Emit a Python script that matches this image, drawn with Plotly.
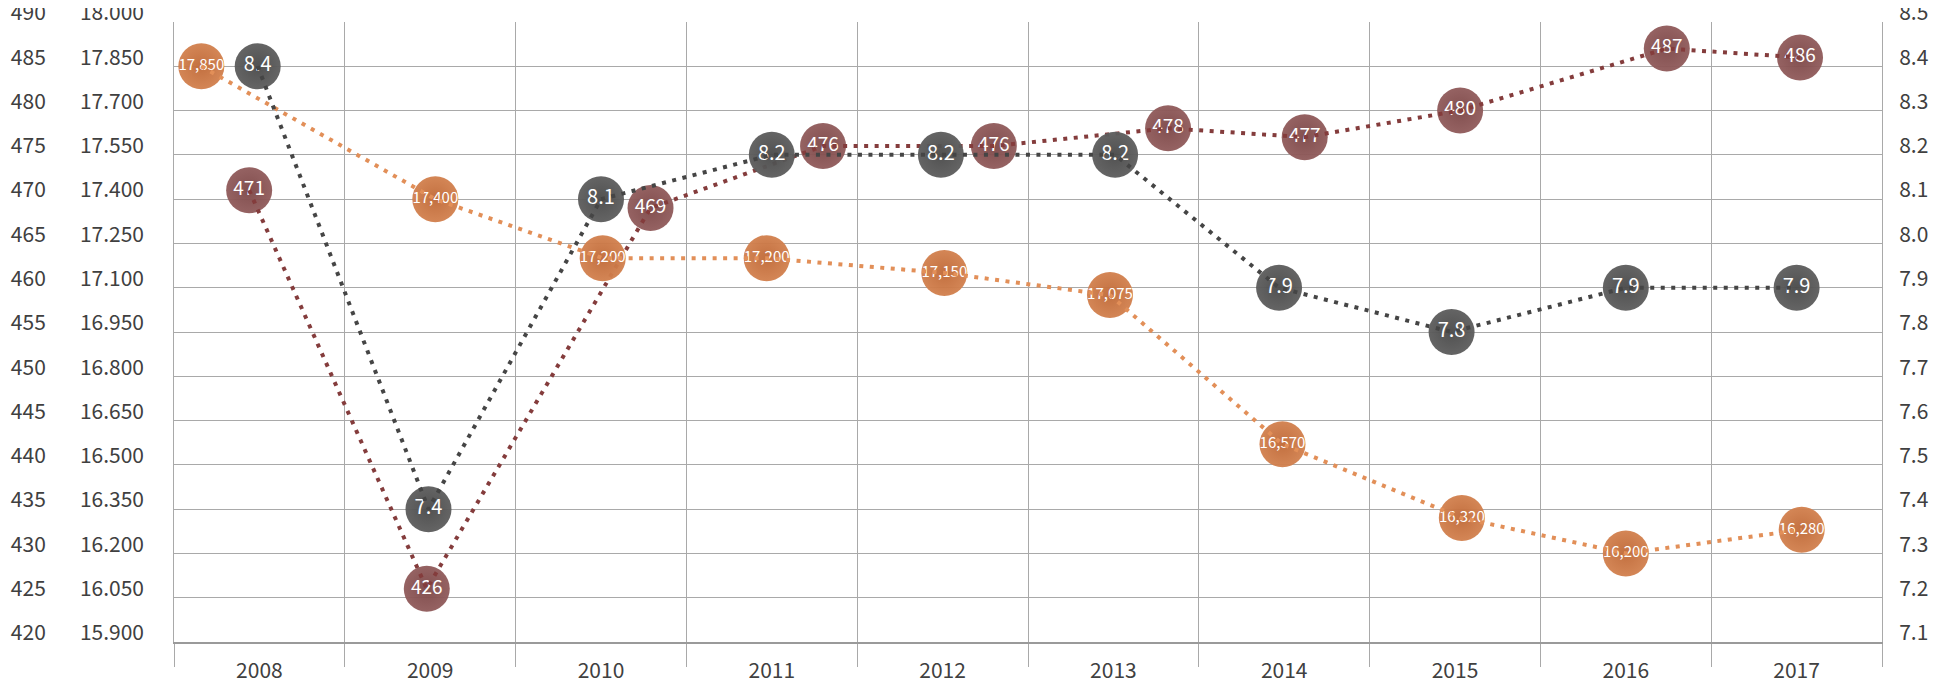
import plotly.graph_objects as go

# ---------------- data ----------------
years = ["2008", "2009", "2010", "2011", "2012", "2013", "2014", "2015", "2016", "2017"]
consumption_kg = [471, 426, 469, 476, 476, 478, 477, 480, 487, 486]          # left axis (420-490)
paper_production = [17850, 17400, 17200, 17200, 17150, 17075, 16570, 16320, 16200, 16280]  # middle axis
rate_value = [8.4, 7.4, 8.1, 8.2, 8.2, 8.2, 7.9, 7.8, 7.9, 7.9]              # right axis (7.1-8.5)

left_ticks = list(range(420, 491, 5))
mid_ticks = [15900 + 150 * i for i in range(15)]
right_ticks = [round(7.1 + 0.1 * i, 1) for i in range(15)]

# ---------------- layout constants (bubble placement within category) ----------------
maroon_shift = [-0.06, -0.02, 0.29, 0.30, 0.30, 0.32, 0.12, 0.03, 0.24, 0.02]
orange_shift = [-0.34, 0.03, 0.01, -0.03, 0.01, -0.02, -0.01, 0.04, 0.0, 0.03]
gray_shift = [-0.01, -0.01, 0.0, 0.0, -0.01, 0.01, -0.03, -0.02, 0.0, 0.0]

W, H = 1953, 685
PLOT_L, PLOT_R, PLOT_T, PLOT_B = 166, 1874, 14, 634

ORANGE = "#d2814f"
ORANGE_EDGE = "#c06a38"
ORANGE_LINE = "#e28f58"
GRAY = "#5e5e5e"
GRAY_EDGE = "#4a4a4a"
GRAY_LINE = "#454545"
MAROON = "#915c5c"
MAROON_EDGE = "#7d4848"
MAROON_LINE = "#843c3c"
GRID = "#a9a9a9"
TXT = "#404040"
FONT = "Noto Sans CJK JP"
DASH = "4px,6.5px"

xi = list(range(len(years)))
x_orange = [i + s for i, s in zip(xi, orange_shift)]
x_gray = [i + s for i, s in zip(xi, gray_shift)]
x_maroon = [i + s for i, s in zip(xi, maroon_shift)]

fig = go.Figure()

# bubbles (markers + labels)
fig.add_trace(go.Scatter(
    x=x_orange, y=paper_production, yaxis="y2", mode="markers+text",
    marker=dict(size=46, color=ORANGE, opacity=0.96,
                gradient=dict(type="radial", color=ORANGE_EDGE)),
    text=[f"{v:,}" for v in paper_production],
    textfont=dict(family=FONT, size=15, color="white"),
    textposition="middle center", hoverinfo="skip", showlegend=False))
fig.add_trace(go.Scatter(
    x=x_gray, y=rate_value, yaxis="y3", mode="markers+text",
    marker=dict(size=46, color=GRAY, opacity=0.96,
                gradient=dict(type="radial", color=GRAY_EDGE)),
    text=[f"{v:.1f}" for v in rate_value],
    textfont=dict(family=FONT, size=20, color="white"),
    textposition="middle center", hoverinfo="skip", showlegend=False))
fig.add_trace(go.Scatter(
    x=x_maroon, y=consumption_kg, yaxis="y", mode="markers+text",
    marker=dict(size=46, color=MAROON, opacity=0.96,
                gradient=dict(type="radial", color=MAROON_EDGE)),
    text=[str(v) for v in consumption_kg],
    textfont=dict(family=FONT, size=19, color="white"),
    textposition="middle center", hoverinfo="skip", showlegend=False))

# dotted connecting lines (drawn on top, as in the reference)
fig.add_trace(go.Scatter(x=x_orange, y=paper_production, yaxis="y2", mode="lines",
                         line=dict(color=ORANGE_LINE, width=4, dash=DASH),
                         hoverinfo="skip", showlegend=False))
fig.add_trace(go.Scatter(x=x_gray, y=rate_value, yaxis="y3", mode="lines",
                         line=dict(color=GRAY_LINE, width=4, dash=DASH),
                         hoverinfo="skip", showlegend=False))
fig.add_trace(go.Scatter(x=x_maroon, y=consumption_kg, yaxis="y", mode="lines",
                         line=dict(color=MAROON_LINE, width=4, dash=DASH),
                         hoverinfo="skip", showlegend=False))

tickfont = dict(family=FONT, size=21, color=TXT)
xdom = [PLOT_L / W, PLOT_R / W]
ydom = [(H - PLOT_B) / H, (H - PLOT_T) / H]

fig.update_layout(
    width=W, height=H,
    margin=dict(l=0, r=0, t=0, b=0, autoexpand=False),
    paper_bgcolor="white", plot_bgcolor="white",
    xaxis=dict(
        domain=xdom, range=[-0.5, 9.5], tickmode="array", tickvals=xi, ticktext=years,
        showgrid=False, zeroline=False, ticks="", tickfont=tickfont,
        ticklabelstandoff=9, automargin=False, ticklabeloverflow="allow",
        showline=True, linecolor="#9a9a9a", linewidth=2,
        minor=dict(tickmode="linear", tick0=-0.5, dtick=1, showgrid=True,
                   gridcolor=GRID, gridwidth=1, ticks="outside", ticklen=23,
                   tickcolor=GRID, tickwidth=1),
    ),
    yaxis=dict(
        domain=ydom, range=[420, 490], tickmode="array", tickvals=left_ticks,
        ticktext=[str(v) for v in left_ticks], showgrid=True, gridcolor=GRID,
        zeroline=False, ticks="", tickfont=tickfont, ticklabelstandoff=123,
        ticklabelshift=-9, automargin=False, ticklabeloverflow="allow",
        showline=True, linecolor=GRID, linewidth=1,
    ),
    yaxis2=dict(
        range=[15900, 18000], overlaying="y", side="left", tickmode="array",
        tickvals=mid_ticks, ticktext=[f"{v/1000:.3f}" for v in mid_ticks],
        showgrid=False, zeroline=False, ticks="", tickfont=tickfont,
        ticklabelstandoff=29, ticklabelshift=-9, automargin=False,
        ticklabeloverflow="allow",
    ),
    yaxis3=dict(
        range=[7.1, 8.5], overlaying="y", side="right", tickmode="array",
        tickvals=right_ticks, ticktext=[f"{v:.1f}" for v in right_ticks],
        showgrid=False, zeroline=False, ticks="", tickfont=tickfont,
        ticklabelstandoff=12, ticklabelshift=-9, automargin=False,
        ticklabeloverflow="allow", showline=True, linecolor=GRID, linewidth=1,
    ),
    annotations=[dict(
        text="SOURCE: ASPAPEL", textangle=-90, xref="paper", yref="paper",
        x=1943 / W, y=8 / H, xanchor="center", yanchor="bottom",
        showarrow=False, font=dict(family=FONT, size=13, color=TXT),
    )],
)

fig.write_html("out.html")
